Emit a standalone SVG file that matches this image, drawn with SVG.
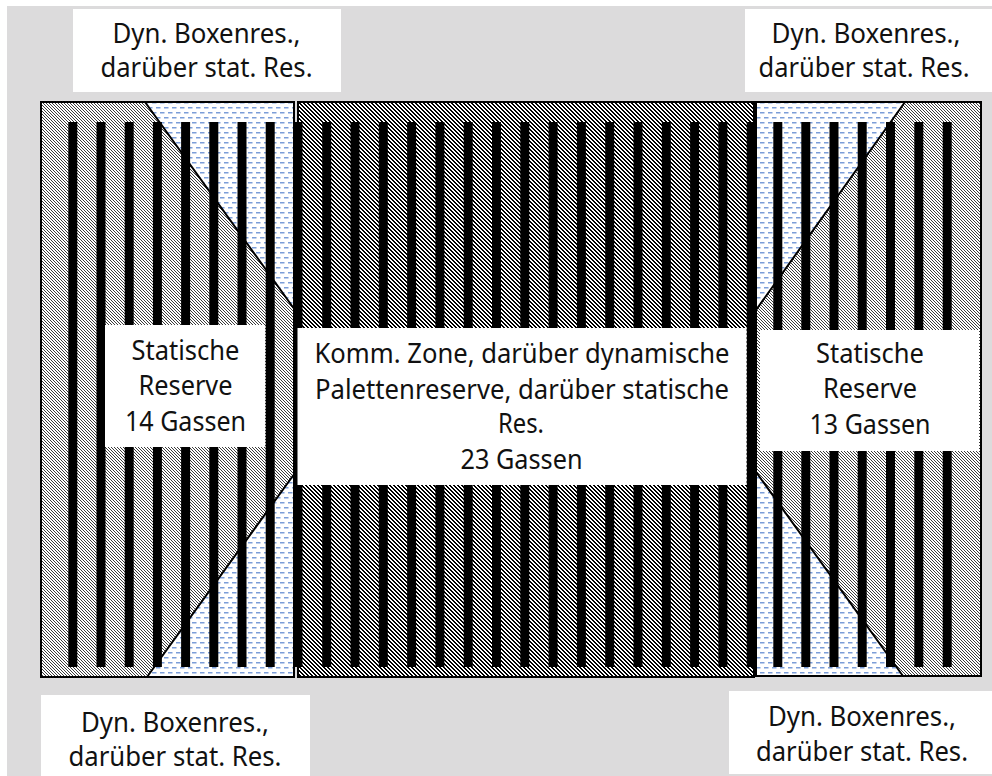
<svg xmlns="http://www.w3.org/2000/svg" width="992" height="776" viewBox="0 0 992 776">
<style>
.lbl{font-family:"Noto Sans","Open Sans","Liberation Sans",sans-serif;font-size:27px;fill:#111;text-anchor:middle}
.box{fill:#fff}
.frame{fill:none;stroke:#000;stroke-width:2}
.diag{stroke:#000;stroke-width:2;fill:none}
.bar{fill:#000}
</style>
<defs>
<pattern id="hGray" patternUnits="userSpaceOnUse" width="3" height="3">
<rect width="3" height="3" fill="#fff"/>
<g fill="#3c3c3c" shape-rendering="crispEdges">
<rect x="0" y="0" width="1" height="1"/>
<rect x="1" y="1" width="1" height="1"/>
<rect x="2" y="2" width="1" height="1"/>
</g>
</pattern>
<pattern id="hMid" patternUnits="userSpaceOnUse" width="4" height="4">
<rect width="4" height="4" fill="#fff"/>
<g fill="#000" shape-rendering="crispEdges">
<rect x="0" y="0" width="2" height="1"/>
<rect x="1" y="1" width="2" height="1"/>
<rect x="2" y="2" width="2" height="1"/>
<rect x="3" y="3" width="1" height="1"/>
<rect x="0" y="3" width="1" height="1"/>
</g>
</pattern>
<pattern id="hBlue" patternUnits="userSpaceOnUse" width="8" height="10">
<rect width="8" height="10" fill="#fff"/>
<rect x="0" y="2" width="4.5" height="1.5" fill="#7b9dd8"/>
<rect x="4" y="7" width="4.5" height="1.5" fill="#7b9dd8"/>
<rect x="-4" y="7" width="4.5" height="1.5" fill="#7b9dd8"/>
</pattern>
</defs>

<rect x="0" y="0" width="992" height="776" fill="#fff"/>
<rect x="7" y="6" width="985" height="770" fill="#dcdbdc"/>

<g id="label-top-left">
<rect class="box" x="73" y="9" width="268" height="83"/>
<text class="lbl" x="206.5" y="42.7" textLength="188" lengthAdjust="spacingAndGlyphs">Dyn. Boxenres.,</text>
<text class="lbl" x="206.5" y="77.3" textLength="212" lengthAdjust="spacingAndGlyphs">darüber stat. Res.</text>
</g>
<g id="label-top-right">
<rect class="box" x="745" y="9" width="247" height="83"/>
<text class="lbl" x="866" y="42.7" textLength="189" lengthAdjust="spacingAndGlyphs">Dyn. Boxenres.,</text>
<text class="lbl" x="864" y="77.3" textLength="211" lengthAdjust="spacingAndGlyphs">darüber stat. Res.</text>
</g>
<g id="label-bottom-left">
<rect class="box" x="41" y="695" width="269" height="81"/>
<text class="lbl" x="175" y="731.5" textLength="188" lengthAdjust="spacingAndGlyphs">Dyn. Boxenres.,</text>
<text class="lbl" x="175" y="766" textLength="213" lengthAdjust="spacingAndGlyphs">darüber stat. Res.</text>
</g>
<g id="label-bottom-right">
<rect class="box" x="729" y="691" width="263" height="83"/>
<text class="lbl" x="862" y="725.5" textLength="188" lengthAdjust="spacingAndGlyphs">Dyn. Boxenres.,</text>
<text class="lbl" x="862" y="760.5" textLength="212" lengthAdjust="spacingAndGlyphs">darüber stat. Res.</text>
</g>

<g id="zone-left">
<rect x="41" y="102" width="254" height="575" fill="url(#hGray)"/>
<polygon points="145,102 295,102 295,310" fill="url(#hBlue)"/>
<polygon points="295,473 295,677 147,677" fill="url(#hBlue)"/>
<path class="diag" d="M145,102 L295,310 M295,473 L147,677"/>
<rect class="frame" x="41" y="102" width="253" height="575"/>
</g>

<g id="zone-middle">
<rect x="298" y="102" width="456" height="575" fill="url(#hMid)"/>
<rect class="frame" x="298" y="102" width="456" height="575"/>
</g>

<g id="zone-right">
<rect x="756" y="102" width="225" height="574" fill="url(#hGray)"/>
<polygon points="756,102 905,102 756,310" fill="url(#hBlue)"/>
<polygon points="756,472 756,676 903,676" fill="url(#hBlue)"/>
<path class="diag" d="M905,102 L756,310 M756,472 L903,676"/>
<rect class="frame" x="756" y="102" width="225" height="574"/>
</g>

<g id="aisles">
<rect class="bar" x="68.3" y="122" width="9" height="545"/>
<rect class="bar" x="96.5" y="122" width="9" height="545"/>
<rect class="bar" x="124.7" y="122" width="9" height="545"/>
<rect class="bar" x="152.9" y="122" width="9" height="545"/>
<rect class="bar" x="181.1" y="122" width="9" height="545"/>
<rect class="bar" x="209.3" y="122" width="9" height="545"/>
<rect class="bar" x="237.5" y="122" width="9" height="545"/>
<rect class="bar" x="265.7" y="122" width="9" height="545"/>
<rect class="bar" x="293.5" y="122" width="9" height="545"/>
<rect class="bar" x="322.2" y="122" width="9" height="545"/>
<rect class="bar" x="350.5" y="122" width="9" height="545"/>
<rect class="bar" x="378.8" y="122" width="9" height="545"/>
<rect class="bar" x="407.1" y="122" width="9" height="545"/>
<rect class="bar" x="435.4" y="122" width="9" height="545"/>
<rect class="bar" x="463.7" y="122" width="9" height="545"/>
<rect class="bar" x="492" y="122" width="9" height="545"/>
<rect class="bar" x="520.3" y="122" width="9" height="545"/>
<rect class="bar" x="548.6" y="122" width="9" height="545"/>
<rect class="bar" x="576.9" y="122" width="9" height="545"/>
<rect class="bar" x="605.2" y="122" width="9" height="545"/>
<rect class="bar" x="633.5" y="122" width="9" height="545"/>
<rect class="bar" x="661.8" y="122" width="9" height="545"/>
<rect class="bar" x="690.1" y="122" width="9" height="545"/>
<rect class="bar" x="718.4" y="122" width="9" height="545"/>
<rect class="bar" x="746.7" y="122" width="9" height="545"/>
<rect class="bar" x="773.3" y="122" width="9" height="545"/>
<rect class="bar" x="801.3" y="122" width="9" height="545"/>
<rect class="bar" x="829.5" y="122" width="9" height="545"/>
<rect class="bar" x="857.7" y="122" width="9" height="545"/>
<rect class="bar" x="886" y="122" width="9" height="545"/>
<rect class="bar" x="914.3" y="122" width="9" height="545"/>
<rect class="bar" x="942.7" y="122" width="9" height="545"/>
</g>

<g id="label-left">
<rect class="box" x="105" y="325" width="160" height="122"/>
<text class="lbl" x="185.5" y="360" textLength="108" lengthAdjust="spacingAndGlyphs">Statische</text>
<text class="lbl" x="185.5" y="395" textLength="94" lengthAdjust="spacingAndGlyphs">Reserve</text>
<text class="lbl" x="185.5" y="430.7" textLength="121" lengthAdjust="spacingAndGlyphs">14 Gassen</text>
</g>
<g id="label-middle">
<rect class="box" x="297.5" y="328" width="449" height="157"/>
<text class="lbl" x="522" y="363.3" textLength="415" lengthAdjust="spacingAndGlyphs">Komm. Zone, darüber dynamische</text>
<text class="lbl" x="522" y="398.5" textLength="414" lengthAdjust="spacingAndGlyphs">Palettenreserve, darüber statische</text>
<text class="lbl" x="521" y="433.3" textLength="46" lengthAdjust="spacingAndGlyphs">Res.</text>
<text class="lbl" x="521.5" y="469" textLength="122" lengthAdjust="spacingAndGlyphs">23 Gassen</text>
</g>
<g id="label-right">
<rect class="box" x="760" y="330" width="219" height="121"/>
<text class="lbl" x="870" y="363" textLength="108" lengthAdjust="spacingAndGlyphs">Statische</text>
<text class="lbl" x="870" y="398" textLength="94" lengthAdjust="spacingAndGlyphs">Reserve</text>
<text class="lbl" x="870" y="434" textLength="121" lengthAdjust="spacingAndGlyphs">13 Gassen</text>
</g>
</svg>
